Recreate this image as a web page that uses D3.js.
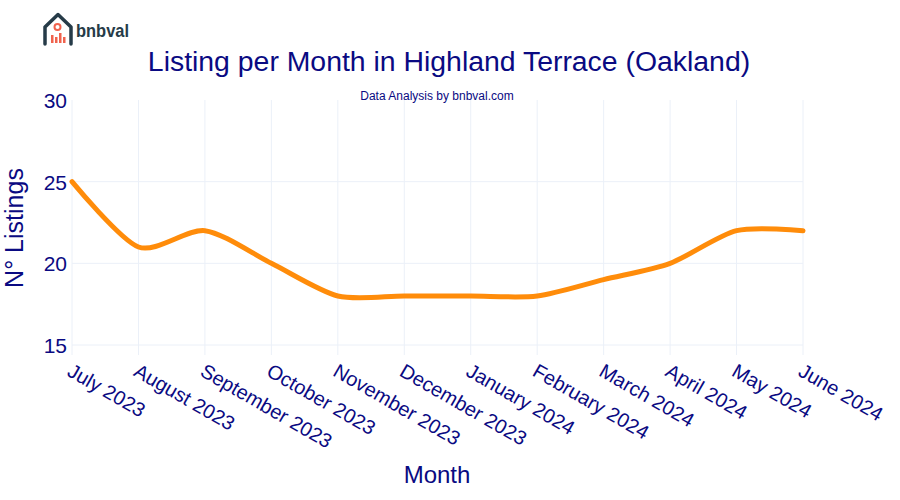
<!DOCTYPE html>
<html><head><meta charset="utf-8">
<script src="https://cdn.jsdelivr.net/npm/d3@7"></script>
<style>body{margin:0;background:#fff}svg{font-family:"Liberation Sans",Arial,sans-serif}</style>
</head><body><svg id="c" width="900" height="500"></svg>
<script>
const months = ["July 2023","August 2023","September 2023","October 2023","November 2023","December 2023","January 2024","February 2024","March 2024","April 2024","May 2024","June 2024"];
const listings = [25,21,22,20,18,18,18,18,19,20,22,22];
const yTicks = [15,20,25,30];

const svg = d3.select("#c");
const navy = "#0a0a82";
const x = d3.scalePoint().domain(months).range([72,803]);
const y = d3.scaleLinear().domain([15,30]).range([345,100]);

// grid
const g = svg.append("g");
g.selectAll("line.v").data(months).join("line")
 .attr("x1",d=>x(d)).attr("x2",d=>x(d)).attr("y1",100).attr("y2",355)
 .attr("stroke","#ebf0f8").attr("stroke-width",1);
g.selectAll("line.h").data(yTicks.filter(t=>t<30)).join("line")
 .attr("x1",72).attr("x2",803).attr("y1",d=>y(d)).attr("y2",d=>y(d))
 .attr("stroke","#ebf0f8").attr("stroke-width",1);

// y axis labels
const ya = svg.append("g").attr("transform","translate(67,0)")
 .call(d3.axisLeft(y).tickValues(yTicks).tickSize(0).tickPadding(0));
ya.select(".domain").remove();
ya.selectAll("text").attr("fill",navy).style("font-size","21px").attr("dy","0.35em");

// x axis labels
const xa = svg.append("g").attr("transform","translate(0,362)")
 .call(d3.axisBottom(x).tickSize(0).tickPadding(0));
xa.select(".domain").remove();
xa.selectAll("text").attr("fill",navy).style("font-size","20px")
 .attr("text-anchor","start").attr("dy","0.75em")
 .attr("transform","translate(1,0) rotate(30)");

// line
const line = d3.line().x((d,i)=>x(months[i])).y(d=>y(d)).curve(d3.curveCardinal.tension(0.2));
svg.append("path").datum(listings).attr("d",line)
 .attr("fill","none").attr("stroke","#ff8c0a").attr("stroke-width",5).attr("stroke-linecap","round");

// titles
svg.append("text").attr("x",449).attr("y",71).attr("text-anchor","middle")
 .attr("fill",navy).style("font-size","28.4px").text("Listing per Month in Highland Terrace (Oakland)");
svg.append("text").attr("x",437).attr("y",100).attr("text-anchor","middle")
 .attr("fill",navy).style("font-size","12px").text("Data Analysis by bnbval.com");
svg.append("text").attr("transform","translate(23,228) rotate(-90)").attr("text-anchor","middle")
 .attr("fill",navy).style("font-size","25px").text("N° Listings");
svg.append("text").attr("x",437).attr("y",483).attr("text-anchor","middle")
 .attr("fill",navy).style("font-size","24px").text("Month");

// logo
const lg = svg.append("g");
const dark = "#263b48";
lg.append("path").attr("d","M45,44 L45,27 L58,14.5 L71,27 L71,44").attr("fill","none")
 .attr("stroke",dark).attr("stroke-width",3.5).attr("stroke-linejoin","round").attr("stroke-linecap","round");
lg.append("circle").attr("cx",57.5).attr("cy",27).attr("r",3).attr("fill","none").attr("stroke","#f0624d").attr("stroke-width",2);
[[51,35,8],[55,37,6],[59,33,10],[63,37,6]].forEach(b=>lg.append("rect").attr("x",b[0]).attr("y",b[1]).attr("width",2.5).attr("height",b[2]).attr("fill","#f0624d"));
lg.append("text").attr("x",76).attr("y",37).attr("fill",dark).style("font-size","19px").style("font-weight","bold")
 .attr("textLength",53).attr("lengthAdjust","spacingAndGlyphs").text("bnbval");
</script></body></html>
